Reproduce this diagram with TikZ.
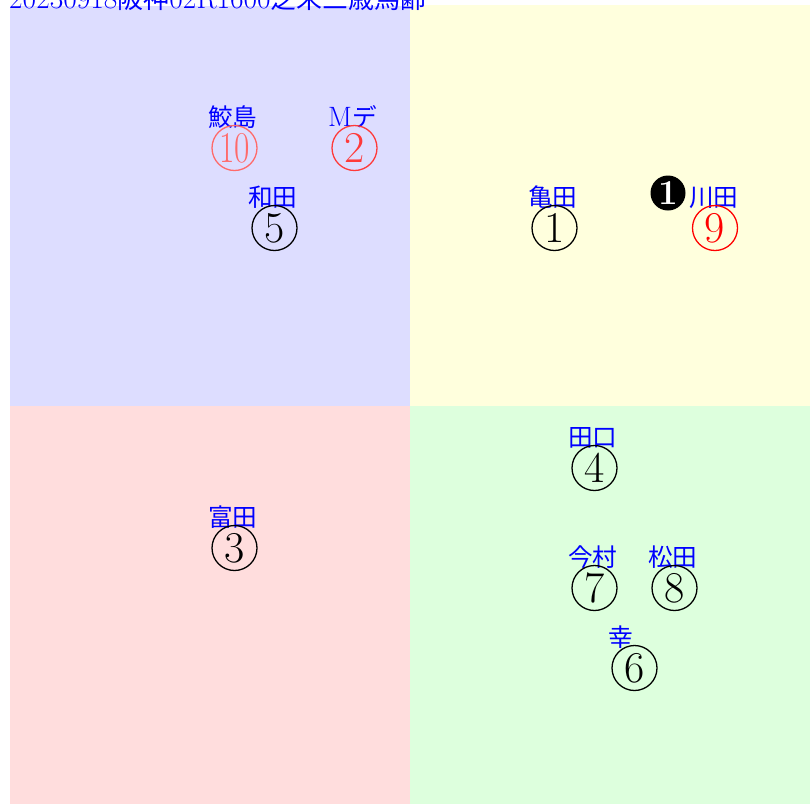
\documentclass[tikz,border=0pt]{standalone}
\usepackage{fontspec}
\newfontfamily\cjk{Noto Sans CJK JP}[Scale=0.88]
\definecolor{qblue}{HTML}{DDDDFF}
\definecolor{qyellow}{HTML}{FFFFDD}
\definecolor{qpink}{HTML}{FFDDDD}
\definecolor{qgreen}{HTML}{DDFFDD}
\definecolor{lightred}{HTML}{FF6A6A}
\definecolor{midred}{HTML}{FF3A3A}
\tikzset{
  lab/.style={anchor=base west, inner sep=0pt, text=blue, font=\fontsize{28}{28}\selectfont},
  num/.style={circle, draw, line width=1.3pt, minimum size=45pt, inner sep=0pt, font=\fontsize{44}{44}\selectfont},
  dark/.style={circle, fill=black, minimum size=35pt, inner sep=0pt, text=white, font=\fontsize{35}{35}\selectfont\bfseries},
  ttl/.style={anchor=base west, inner sep=0pt, text=blue, font=\fontsize{29.5}{29.5}\selectfont},
}
\begin{document}
\begin{tikzpicture}[x=1pt,y=-1pt]
\useasboundingbox (0,0) rectangle (810,804);
\clip (0,0) rectangle (810,804);
\fill[white] (0,0) rectangle (810,804);
% quadrants
\fill[qblue]   (9.5,5.5) rectangle (409.5,405.5);
\fill[qyellow] (409.5,5) rectangle (810,405.5);
\fill[qpink]   (9.5,405.5) rectangle (409.5,804);
\fill[qgreen]  (409.5,405.5) rectangle (810,804);
% title
\node[ttl] (title) at (9,8) {20230918{\cjk 阪神}02R1600{\cjk 芝未三歳馬齢}};
% blue quadrant
\node[lab] (l10) at (208,126) {{\cjk 鮫島}};
\node[num, draw=lightred, text=lightred] (n10) at (234.5,148) {\scalebox{0.76}[1]{10}};
\node[lab] (l2) at (328,126) {M{\cjk デ}};
\node[num, draw=midred, text=midred] (n2) at (354.5,148) {2};
\node[lab] (l5) at (248,206) {{\cjk 和田}};
\node[num] (n5) at (274.5,228) {5};
% yellow quadrant
\node[lab] (l1) at (528,206) {{\cjk 亀田}};
\node[num] (n1) at (554.5,228) {1};
\node[dark] (d1) at (668,193) {1};
\node[lab] (l9) at (689,206) {{\cjk 川田}};
\node[num, draw=red, text=red] (n9) at (715,228) {9};
% pink quadrant
\node[lab] (l3) at (208,526) {{\cjk 富田}};
\node[num] (n3) at (234.5,548) {3};
% green quadrant
\node[lab] (l4) at (568,446) {{\cjk 田口}};
\node[num] (n4) at (594.5,468) {4};
\node[lab] (l7) at (568,566) {{\cjk 今村}};
\node[num] (n7) at (594.5,588) {7};
\node[lab] (l8) at (648,566) {{\cjk 松田}};
\node[num] (n8) at (674.5,588) {8};
\node[lab] (l6) at (608,646) {{\cjk 幸}};
\node[num] (n6) at (634.5,668) {6};
\end{tikzpicture}
\end{document}
